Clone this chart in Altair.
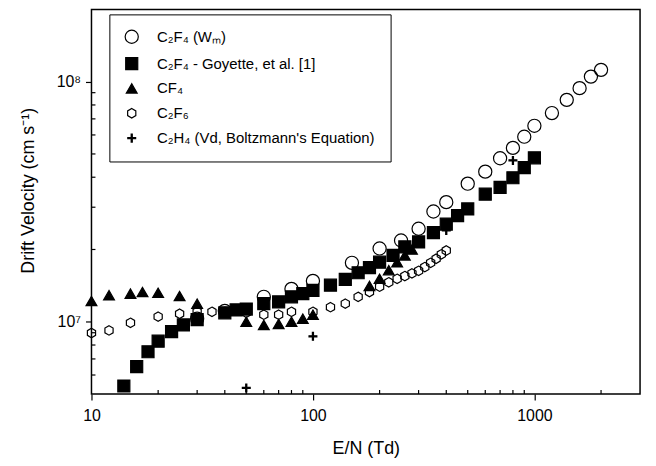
import altair as alt
import pandas as pd

# series names, in legend order
names = ["C₂F₄ (Wₘ)", "C₂F₄ - Goyette, et al. [1]", "CF₄", "C₂F₆",
         "C₂H₄ (Vd, Boltzmann's Equation)"]

# C2F4, W_m (open circles)
wm_en = [30, 40, 60, 80, 100, 150, 200, 250, 300, 350, 400, 500, 600, 700,
         800, 900, 1000, 1200, 1400, 1600, 1800, 2000]
wm_v = [1.03e7, 1.11e7, 1.27e7, 1.37e7, 1.48e7, 1.76e7, 2.02e7, 2.18e7,
        2.44e7, 2.88e7, 3.15e7, 3.76e7, 4.22e7, 4.8e7, 5.3e7, 5.9e7, 6.55e7,
        7.4e7, 8.4e7, 9.4e7, 1.05e8, 1.12e8]

# C2F4, Goyette et al. (filled squares)
goy_en = [14, 16, 18, 20, 23, 26, 30, 40, 45, 50, 60, 70, 80, 90, 100, 120,
          140, 160, 180, 200, 230, 260, 300, 350, 400, 450, 500, 600, 700,
          800, 900, 1000]
goy_v = [5.4e6, 6.5e6, 7.5e6, 8.3e6, 9.1e6, 9.7e6, 1.02e7, 1.09e7, 1.12e7,
         1.13e7, 1.19e7, 1.21e7, 1.27e7, 1.31e7, 1.35e7, 1.42e7, 1.5e7,
         1.6e7, 1.68e7, 1.77e7, 1.89e7, 2.05e7, 2.15e7, 2.35e7, 2.55e7,
         2.77e7, 2.95e7, 3.4e7, 3.63e7, 3.98e7, 4.39e7, 4.82e7]

# CF4 (filled triangles)
cf4_en = [10, 12, 15, 17, 20, 25, 30, 50, 60, 70, 80, 90, 100, 180, 200, 220,
          240, 260, 280]
cf4_v = [1.22e7, 1.29e7, 1.31e7, 1.33e7, 1.32e7, 1.28e7, 1.19e7, 1.0e7,
         9.7e6, 9.8e6, 1.0e7, 1.03e7, 1.07e7, 1.41e7, 1.51e7, 1.64e7, 1.77e7,
         1.89e7, 2.0e7]

# C2F6 (open hexagons)
c2f6_en = [10, 12, 15, 20, 25, 30, 35, 40, 50, 60, 70, 80, 100, 120, 140, 160,
           180, 200, 220, 240, 260, 280, 300, 320, 340, 360, 380, 400]
c2f6_v = [8.98e6, 9.2e6, 9.9e6, 1.05e7, 1.08e7, 1.1e7, 1.1e7, 1.1e7, 1.09e7,
          1.07e7, 1.07e7, 1.1e7, 1.1e7, 1.15e7, 1.19e7, 1.27e7, 1.33e7, 1.4e7,
          1.46e7, 1.51e7, 1.55e7, 1.59e7, 1.63e7, 1.69e7, 1.76e7, 1.83e7,
          1.91e7, 1.98e7]

# C2H4, V_d from Boltzmann's equation (plus signs)
c2h4_en = [50, 100, 400, 800]
c2h4_v = [5.3e6, 8.7e6, 2.4e7, 4.7e7]

# axis ticks
major_x = [10, 100, 1000]
minor_x = [20, 30, 40, 50, 60, 70, 80, 90, 200, 300, 400, 500, 600, 700, 800,
           900, 2000]
major_y = [1e7, 1e8]
minor_y = [6e6, 7e6, 8e6, 9e6, 2e7, 3e7, 4e7, 5e7, 6e7, 7e7, 8e7, 9e7]

W, H = 552, 387

hexagon = "M0,-1L0.866,-0.5L0.866,0.5L0,1L-0.866,0.5L-0.866,-0.5Z"
plus = "M-0.14,-1H0.14V-0.14H1V0.14H0.14V1H-0.14V0.14H-1V-0.14H-0.14Z"
shapes = ["circle", "square", "triangle-up", hexagon, plus]
fills = ["transparent", "black", "black", "transparent", "black"]
strokes = ["black"] * 5
sizes = [175, 62, 80, 72, 60]

# open markers first so the filled ones sit on top
frames = []
for name, xs, ys in [(names[0], wm_en, wm_v), (names[3], c2f6_en, c2f6_v),
                     (names[2], cf4_en, cf4_v), (names[1], goy_en, goy_v),
                     (names[4], c2h4_en, c2h4_v)]:
    frames.append(pd.DataFrame({"en": xs, "v": ys, "series": name}))
df = pd.concat(frames, ignore_index=True)

x_scale = alt.Scale(type="log", domain=[10, 3000], nice=False)
y_scale = alt.Scale(type="log", domain=[5e6, 2e8], nice=False)

x_axis = alt.Axis(values=major_x, format="d", tickSize=6, labelPadding=8,
                  labelFlush=False, labelOverlap=False, domain=False,
                  grid=False, title="E/N (Td)", titleY=46,
                  titleBaseline="top")
y_axis = alt.Axis(values=major_y, tickSize=6, labelPadding=5,
                  labelExpr="datum.value < 5e7 ? '10⁷' : '10⁸'",
                  labelOverlap=False, domain=False, grid=False,
                  title="Drift Velocity (cm s⁻¹)", titleX=-54, titleY=182,
                  titleAngle=270, titleAlign="center", titleBaseline="bottom")

legend = alt.Legend(orient="none", legendX=18, legendY=5, title=None,
                    strokeColor="black", fillColor="white", padding=15,
                    rowPadding=9, labelFont="Liberation Sans",
                    labelFontSize=15, labelColor="black", labelOffset=18,
                    labelLimit=400, symbolStrokeWidth=1.2)

points = alt.Chart(df).mark_point(opacity=1, strokeWidth=1.2).encode(
    x=alt.X("en:Q", scale=x_scale, axis=x_axis),
    y=alt.Y("v:Q", scale=y_scale, axis=y_axis),
    shape=alt.Shape("series:N", scale=alt.Scale(domain=names, range=shapes), legend=legend),
    fill=alt.Fill("series:N", scale=alt.Scale(domain=names, range=fills), legend=legend),
    stroke=alt.Stroke("series:N", scale=alt.Scale(domain=names, range=strokes), legend=legend),
    size=alt.Size("series:N", scale=alt.Scale(domain=names, range=sizes), legend=legend),
)

# minor ticks point inward from the bottom and left edges
minor_x_ticks = alt.Chart(pd.DataFrame({"en": minor_x})).mark_rule(
    color="black", strokeWidth=1.2
).encode(
    x=alt.X("en:Q", scale=x_scale, axis=x_axis),
    y=alt.value(H),
    y2=alt.value(H - 4),
)
minor_y_ticks = alt.Chart(pd.DataFrame({"v": minor_y})).mark_rule(
    color="black", strokeWidth=1.2
).encode(
    y=alt.Y("v:Q", scale=y_scale, axis=y_axis),
    x=alt.value(0),
    x2=alt.value(4),
)

chart = alt.layer(minor_x_ticks, minor_y_ticks, points).properties(
    width=W, height=H,
    autosize=alt.AutoSizeParams(type="none"),
    padding={"left": 84, "top": 0, "right": 8, "bottom": 71},
    background="white",
).configure_view(
    stroke="black", strokeWidth=1.5
).configure_axis(
    labelFont="Liberation Sans", labelFontSize=16, labelColor="black",
    titleFont="Liberation Sans", titleFontSize=18, titleFontWeight="normal",
    titleColor="black", tickColor="black", tickWidth=1.2
)

chart.save("out.html", embed_options={"renderer": "svg", "actions": False})
